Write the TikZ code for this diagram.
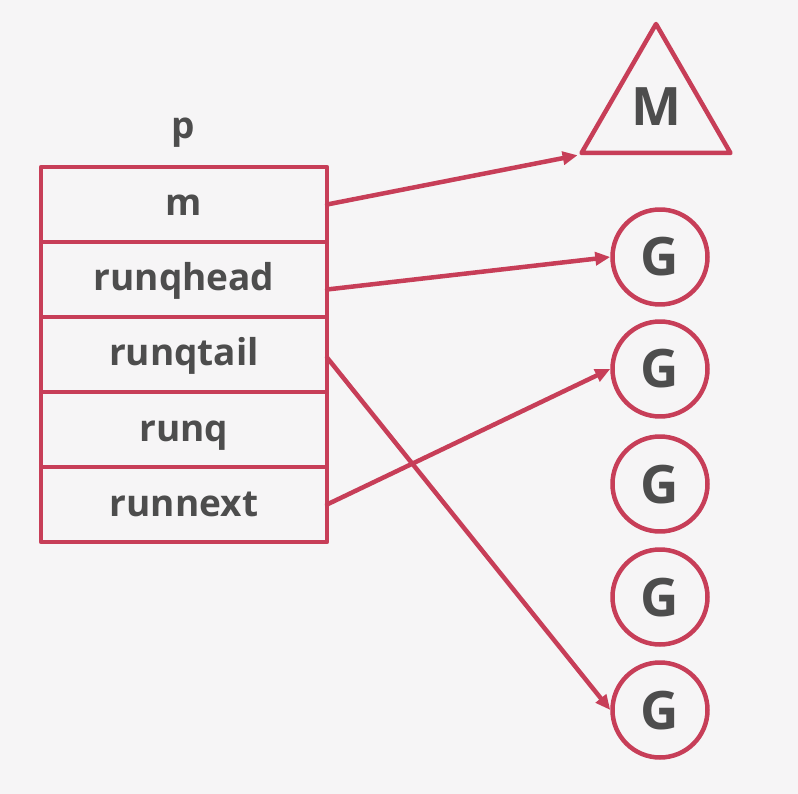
\documentclass[tikz,border=0pt]{standalone}
\usepackage{fontspec}
\setsansfont{Open Sans}
\usetikzlibrary{arrows.meta,positioning,shapes.geometric}
\definecolor{pred}{RGB}{199,62,88}
\definecolor{ptext}{RGB}{77,77,77}
\definecolor{pback}{RGB}{246,245,246}

\begin{document}
\begin{tikzpicture}[x=1pt,y=-1pt,line cap=round,line join=round,>={Triangle[length=15pt,width=13pt]},
    field/.style={draw=pred,line width=4.5pt,minimum width=286pt,minimum height=75pt,inner sep=0pt,outer sep=0pt,
        text=ptext,text height=23pt,text depth=0pt,font=\sffamily\bfseries\fontsize{37}{37}\selectfont},
    gnode/.style={circle,draw=pred,line width=4.5pt,minimum size=95pt,inner sep=0pt,
        text=ptext,text height=38pt,text depth=0pt,font=\sffamily\bfseries\fontsize{53}{53}\selectfont},
    link/.style={->,draw=pred,line width=4.5pt}]
    \fill[pback] (0,0) rectangle (798,794);
    \useasboundingbox (0,0) rectangle (798,794);
    % the p struct
    \node[text=ptext,anchor=base,font=\sffamily\bfseries\fontsize{37}{37}\selectfont] (plabel) at (183,139) {p};
    \node[field] (m) at (184,204.5) {m};
    \node[field,below=0pt of m] (rh) {runqhead};
    \node[field,below=0pt of rh] (rt) {runqtail};
    \node[field,below=0pt of rt] (rq) {runq};
    \node[field,below=0pt of rq] (rn) {runnext};
    % M and the Gs
    \node[regular polygon,regular polygon sides=3,draw=pred,line width=4.5pt,minimum size=172pt,inner sep=0pt,
        text=ptext,text height=32pt,text depth=0pt,font=\sffamily\bfseries\fontsize{53}{53}\selectfont] (mach) at (656,110) {M};
    \foreach \y [count=\i] in {257,369,484,597,710}
        \node[gnode] (g\i) at (660,\y) {G};
    % pointers
    \draw[link] (m.east) -- (mach.corner 2);
    \draw[link] ([yshift=-10pt]rh.east) -- (g1.west);
    \draw[link] ([yshift=-3pt]rt.east) -- (g5.west);
    \draw[link] (rn.east) -- (g2.west);
\end{tikzpicture}
\end{document}
